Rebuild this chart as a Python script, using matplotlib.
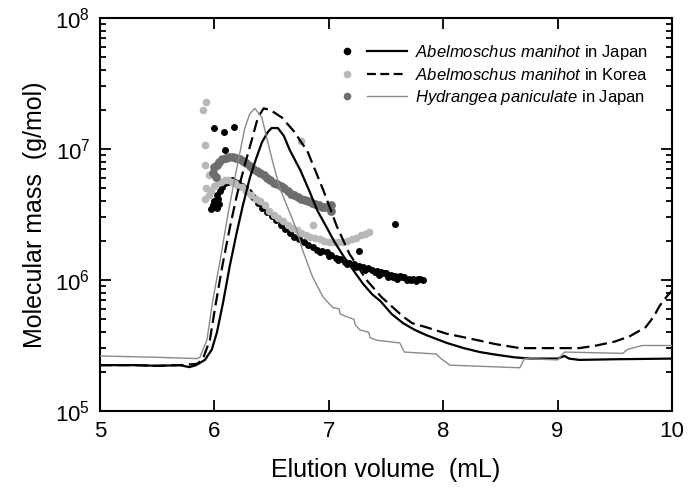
#
#   Molecular mass vs elution volume (SEC-MALS) for three polysaccharide samples
#

import numpy as np
import matplotlib
matplotlib.use("Agg")
import matplotlib.pyplot as plt
from matplotlib.lines import Line2D
from matplotlib.legend_handler import HandlerTuple
from matplotlib.ticker import NullLocator

plt.rcParams["font.family"] = ["Liberation Sans", "DejaVu Sans"]
plt.rcParams["mathtext.fontset"] = "custom"
plt.rcParams["mathtext.rm"] = "Liberation Sans"
plt.rcParams["mathtext.it"] = "Liberation Sans:italic"

#
#   Data (molecular mass given as log10 values)
#

LABELS = [
    r"$\it{Abelmoschus\ manihot}$ in Japan",
    r"$\it{Abelmoschus\ manihot}$ in Korea",
    r"$\it{Hydrangea\ paniculate}$ in Japan",
]

# elution profiles (lines)
jp_line_x = [5.0, 5.3, 5.5, 5.7, 5.78, 5.84, 5.917, 5.978, 6.022, 6.074, 6.135, 6.197,
             6.249, 6.31, 6.362, 6.415, 6.467, 6.50, 6.555, 6.607, 6.66, 6.75, 6.83,
             6.90, 6.97, 7.05, 7.13, 7.21, 7.30, 7.38, 7.45, 7.55, 7.65, 7.75, 7.85,
             8.03, 8.18, 8.32, 8.46, 8.62, 8.76, 9.0, 9.06, 9.10, 9.19, 9.5, 10.0]
jp_line_logm = [5.35, 5.35, 5.345, 5.35, 5.335, 5.35, 5.39, 5.47, 5.60, 5.82, 6.11, 6.37,
                6.57, 6.78, 6.92, 7.05, 7.13, 7.16, 7.16, 7.10, 6.99, 6.84, 6.68,
                6.53, 6.42, 6.29, 6.18, 6.08, 5.97, 5.89, 5.84, 5.74, 5.67, 5.62, 5.58,
                5.52, 5.48, 5.45, 5.43, 5.41, 5.40, 5.40, 5.42, 5.40, 5.39, 5.395, 5.40]

kr_line_x = [5.0, 5.3, 5.5, 5.7, 5.85, 5.90, 5.96, 6.01, 6.07, 6.135, 6.197, 6.266,
             6.327, 6.38, 6.43, 6.485, 6.59, 6.70, 6.76, 6.81, 6.88, 6.95, 7.07, 7.18,
             7.33, 7.46, 7.65, 7.73, 7.85, 8.03, 8.25, 8.46, 8.67, 8.9, 9.19, 9.34,
             9.5, 9.63, 9.77, 9.84, 9.89, 9.95, 10.0]
kr_line_logm = [5.35, 5.35, 5.345, 5.35, 5.36, 5.40, 5.54, 5.81, 6.11, 6.40, 6.65, 6.88,
                7.07, 7.24, 7.31, 7.30, 7.24, 7.13, 7.05, 6.99, 6.84, 6.69, 6.41, 6.20,
                6.0, 5.87, 5.72, 5.67, 5.64, 5.59, 5.55, 5.51, 5.48, 5.48, 5.48, 5.50,
                5.53, 5.57, 5.64, 5.72, 5.80, 5.87, 5.92]

hy_line_x = [5.0, 5.5, 5.85, 5.873, 5.934, 5.987, 6.048, 6.118, 6.179, 6.266, 6.31,
             6.354, 6.415, 6.459, 6.51, 6.572, 6.633, 6.72, 6.77, 6.86, 6.95, 7.035,
             7.09, 7.10, 7.157, 7.22, 7.23, 7.27, 7.35, 7.36, 7.42, 7.62, 7.66, 7.94,
             7.98, 8.06, 8.67, 8.71, 9.0, 9.06, 9.57, 9.61, 9.74, 10.0]
hy_line_logm = [5.42, 5.41, 5.40, 5.41, 5.54, 5.85, 6.14, 6.50, 6.78, 7.16, 7.27,
                7.31, 7.24, 7.08, 6.90, 6.70, 6.57, 6.38, 6.23, 6.02, 5.87, 5.79,
                5.78, 5.74, 5.72, 5.70, 5.66, 5.62, 5.60, 5.56, 5.54, 5.52, 5.45, 5.435,
                5.40, 5.35, 5.33, 5.40, 5.39, 5.45, 5.44, 5.47, 5.50, 5.50]

# molecular mass data points
jp_pts_x = [6.00, 6.08, 6.17, 6.09, 7.26, 7.58,
            5.97, 5.99, 6.00, 6.02, 6.03, 6.05, 6.07, 6.09, 6.12, 6.15, 6.18, 6.21,
            6.24, 6.27, 6.30, 6.34, 6.38, 6.42, 6.46, 6.50, 6.54, 6.58, 6.62, 6.66,
            6.70, 6.74, 6.78, 6.82, 6.86, 6.90, 6.94, 6.98, 7.02, 7.06, 7.10, 7.14,
            7.18, 7.22, 7.26, 7.30, 7.34, 7.38, 7.42, 7.46, 7.50, 7.54, 7.58, 7.62,
            7.66, 7.70, 7.74, 7.78, 7.82, 7.44, 7.52, 7.60, 7.68, 7.76, 7.80,
            6.04, 6.02, 6.92, 7.00, 7.08, 7.16, 7.24, 7.32, 7.40, 7.48, 7.56, 7.64, 7.72]
jp_pts_logm = [7.16, 7.13, 7.17, 6.99, 6.22, 6.43,
               6.54, 6.57, 6.60, 6.65, 6.62, 6.68, 6.71, 6.74, 6.75, 6.76, 6.75, 6.74,
               6.72, 6.70, 6.67, 6.63, 6.59, 6.55, 6.52, 6.49, 6.46, 6.42, 6.39, 6.36,
               6.33, 6.31, 6.29, 6.27, 6.25, 6.23, 6.22, 6.21, 6.19, 6.17, 6.16, 6.14,
               6.13, 6.12, 6.11, 6.10, 6.09, 6.08, 6.07, 6.06, 6.05, 6.04, 6.03, 6.03,
               6.02, 6.01, 6.01, 6.005, 6.00, 6.04, 6.02, 6.01, 6.00, 5.99, 6.01,
               6.58, 6.55, 6.21, 6.18, 6.15, 6.12, 6.10, 6.08, 6.06, 6.05, 6.02, 6.02, 6.00]

kr_pts_x = [5.93, 5.90, 5.92, 5.92, 5.95, 6.76, 6.86,
            5.92, 5.93, 5.95, 5.97, 6.00, 6.03, 6.06, 6.09, 6.12, 6.15, 6.18, 6.21,
            6.24, 6.28, 6.32, 6.36, 6.40, 6.44, 6.48, 6.52, 6.56, 6.60, 6.64, 6.68,
            6.72, 6.76, 6.80, 6.84, 6.88, 6.92, 6.96, 7.00, 7.04, 7.08, 7.12, 7.16,
            7.20, 7.24, 7.28, 7.32, 7.35]
kr_pts_logm = [7.36, 7.30, 7.03, 6.88, 6.80, 7.06, 6.42,
               6.62, 6.70, 6.65, 6.68, 6.72, 6.74, 6.75, 6.76, 6.76, 6.75, 6.74, 6.72,
               6.71, 6.68, 6.65, 6.62, 6.60, 6.57, 6.53, 6.50, 6.47, 6.45, 6.42, 6.40,
               6.38, 6.36, 6.34, 6.33, 6.32, 6.31, 6.30, 6.29, 6.29, 6.29, 6.29, 6.30,
               6.31, 6.32, 6.34, 6.35, 6.37]

hy_pts_x = [5.99, 6.00, 6.02, 6.04, 6.07, 6.10, 6.13, 6.16, 6.19, 6.22, 6.25, 6.28,
            6.31, 6.34, 6.37, 6.40, 6.43, 6.46, 6.49, 6.52, 6.55, 6.58, 6.61, 6.64,
            6.67, 6.70, 6.73, 6.76, 6.79, 6.82, 6.85, 6.88, 6.91, 6.94, 6.97, 7.00,
            7.02, 7.02, 6.01]
hy_pts_logm = [6.82, 6.86, 6.88, 6.90, 6.92, 6.93, 6.94, 6.94, 6.93, 6.92, 6.91, 6.89,
               6.87, 6.85, 6.83, 6.82, 6.80, 6.78, 6.76, 6.74, 6.73, 6.72, 6.70, 6.68,
               6.66, 6.65, 6.63, 6.62, 6.61, 6.60, 6.59, 6.58, 6.57, 6.56, 6.56, 6.555,
               6.57, 6.53, 6.79]

JP_PT_COLOR = "black"
KR_PT_COLOR = "#b8b8b8"
HY_PT_COLOR = "#6e6e6e"
HY_LINE_COLOR = "#8a8a8a"


def make_plot():
    fig, ax = plt.subplots(figsize=(6.89, 4.99), dpi=100)
    fig.subplots_adjust(left=100 / 689, right=672 / 689, bottom=1 - 411 / 499, top=1 - 18 / 499)

    # points
    ax.plot(jp_pts_x, 10 ** np.array(jp_pts_logm), "o", color=JP_PT_COLOR, ms=5.0, mew=0, zorder=2)
    ax.plot(kr_pts_x, 10 ** np.array(kr_pts_logm), "o", color=KR_PT_COLOR, ms=5.5, mew=0, zorder=2.1)
    ax.plot(hy_pts_x, 10 ** np.array(hy_pts_logm), "o", color=HY_PT_COLOR, ms=6.3, mew=0, zorder=2.2)

    # elution profiles
    ax.plot(jp_line_x, 10 ** np.array(jp_line_logm), "-", color="black", lw=1.6, zorder=3)
    ax.plot(kr_line_x, 10 ** np.array(kr_line_logm), "--", color="black", lw=1.6,
            dashes=(5.5, 2.5), zorder=3)
    ax.plot(hy_line_x, 10 ** np.array(hy_line_logm), "-", color=HY_LINE_COLOR, lw=1.0, zorder=3)

    ax.set_yscale("log")
    ax.set_xlim(5, 10)
    ax.set_ylim(1e5, 1e8)
    ax.set_xticks([5, 6, 7, 8, 9, 10])
    ax.xaxis.set_minor_locator(NullLocator())

    ax.tick_params(which="both", direction="in", top=True, right=True, width=1.3)
    ax.tick_params(which="major", length=8, labelsize=16, pad=7)
    ax.tick_params(which="minor", length=4.5)
    for sp in ax.spines.values():
        sp.set_linewidth(1.5)

    ax.set_xlabel("Elution volume  (mL)", fontsize=18, labelpad=12)
    ax.set_ylabel("Molecular mass  (g/mol)", fontsize=18, labelpad=6)

    # legend: marker + line for each sample
    handles = [
        (Line2D([], [], ls="none", marker="o", color=JP_PT_COLOR, ms=5.5, mew=0),
         Line2D([], [], color="black", lw=1.6)),
        (Line2D([], [], ls="none", marker="o", color=KR_PT_COLOR, ms=5.5, mew=0),
         Line2D([], [], color="black", lw=1.6, ls="--", dashes=(4, 2))),
        (Line2D([], [], ls="none", marker="o", color=HY_PT_COLOR, ms=5.5, mew=0),
         Line2D([], [], color=HY_LINE_COLOR, lw=1.0)),
    ]
    ax.legend(handles, LABELS, handler_map={tuple: HandlerTuple(ndivide=None, pad=0.0)},
              loc="upper right", bbox_to_anchor=(0.958, 0.937), frameon=False,
              fontsize=12, handlelength=4.8, handletextpad=0.5, labelspacing=0.3,
              borderpad=0, borderaxespad=0)

    fig.savefig("out.png", dpi=100)


if __name__ == "__main__":
    make_plot()
